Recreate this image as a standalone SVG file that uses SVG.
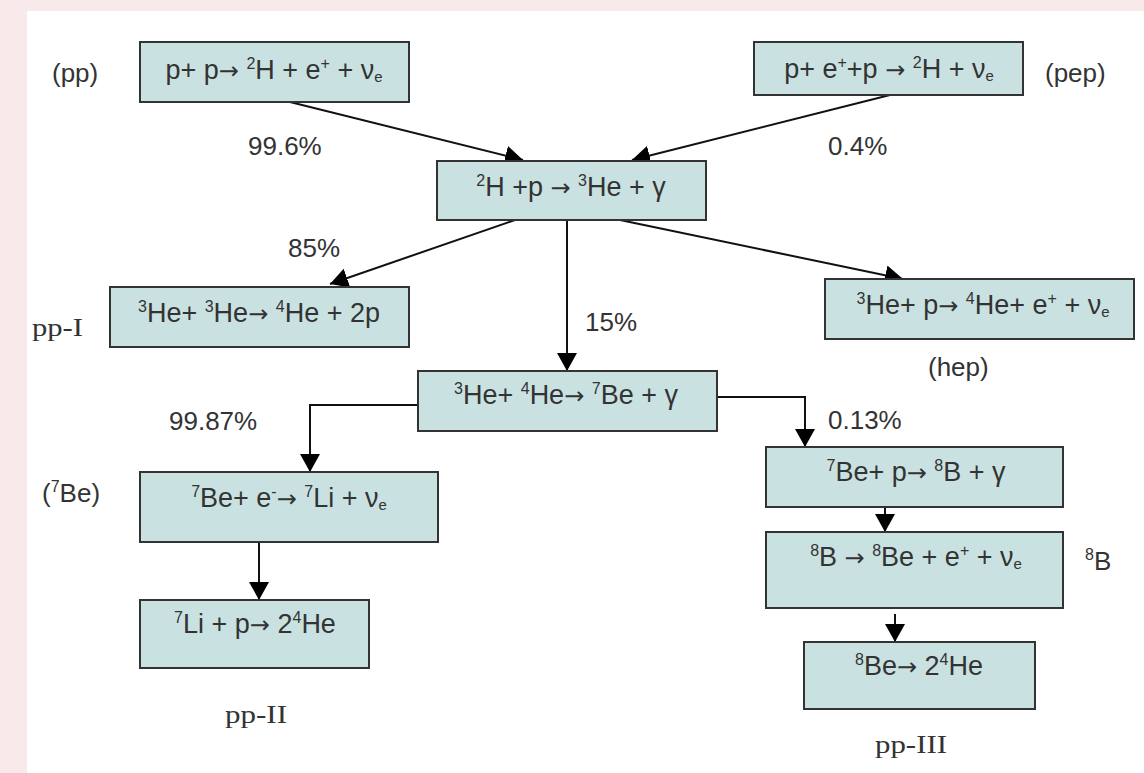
<svg xmlns="http://www.w3.org/2000/svg" width="1144" height="773" viewBox="0 0 1144 773">
<defs>
<marker id="ah" markerUnits="userSpaceOnUse" markerWidth="18" markerHeight="20" viewBox="0 0 18 20" refX="18" refY="10" orient="auto">
<path d="M0,0 L18,10 L0,20 Z" fill="#000"/>
</marker>
<style>
.box{fill:#c9e2e1;stroke:#333;stroke-width:2}
.t{font-family:"Liberation Sans",Arial,sans-serif;font-size:27px;fill:#333;text-anchor:middle}
.l{font-family:"Liberation Sans",Arial,sans-serif;font-size:26px;fill:#333}
.r{font-family:"Liberation Serif","Times New Roman",serif;font-size:25px;fill:#333}
.s{font-size:16px}
.b{font-size:15px}
.a{font-family:"DejaVu Sans",sans-serif;font-size:24px}
.c{fill:none;stroke:#111;stroke-width:2}
</style>
</defs>
<rect x="0" y="0" width="1144" height="773" fill="#f8eaea"/>
<rect x="27" y="11" width="1117" height="762" fill="#ffffff"/>

<g id="connectors">
<line class="c" x1="290" y1="102" x2="523" y2="160" marker-end="url(#ah)"/>
<line class="c" x1="890" y1="95" x2="632" y2="160" marker-end="url(#ah)"/>
<line class="c" x1="515" y1="220" x2="330" y2="284" marker-end="url(#ah)"/>
<line class="c" x1="620" y1="220" x2="903" y2="279" marker-end="url(#ah)"/>
<line class="c" x1="567" y1="220" x2="567" y2="371" marker-end="url(#ah)"/>
<polyline class="c" points="418,405 310,405 310,472" marker-end="url(#ah)"/>
<polyline class="c" points="717,397 805,397 805,447" marker-end="url(#ah)"/>
<line class="c" x1="259" y1="542" x2="259" y2="600" marker-end="url(#ah)"/>
<line class="c" x1="885" y1="507" x2="885" y2="532" marker-end="url(#ah)"/>
<line class="c" x1="895" y1="614" x2="895" y2="642" marker-end="url(#ah)"/>
</g>

<g id="n-pp">
<rect class="box" x="140" y="42" width="269" height="60"/>
<text class="t" x="274" y="79">p+ p<tspan class="a">→</tspan> <tspan class="s" dy="-10">2</tspan><tspan dy="10">H + e</tspan><tspan class="s" dy="-10">+</tspan><tspan dy="10"> + ν</tspan><tspan class="b" dy="3">e</tspan></text>
</g>
<g id="n-pep">
<rect class="box" x="754" y="42" width="269" height="53"/>
<text class="t" x="889" y="78">p+ e<tspan class="s" dy="-10">+</tspan><tspan dy="10">+p </tspan><tspan class="a">→</tspan> <tspan class="s" dy="-10">2</tspan><tspan dy="10">H + ν</tspan><tspan class="b" dy="3">e</tspan></text>
</g>
<g id="n-dp">
<rect class="box" x="437" y="161" width="269" height="59"/>
<text class="t" x="571" y="196"><tspan class="s" dy="-10">2</tspan><tspan dy="10">H +p </tspan><tspan class="a">→</tspan> <tspan class="s" dy="-10">3</tspan><tspan dy="10">He + γ</tspan></text>
</g>
<g id="n-ppI">
<rect class="box" x="110" y="287" width="299" height="60"/>
<text class="t" x="259" y="322"><tspan class="s" dy="-10">3</tspan><tspan dy="10">He+ </tspan><tspan class="s" dy="-10">3</tspan><tspan dy="10">He</tspan><tspan class="a">→</tspan> <tspan class="s" dy="-10">4</tspan><tspan dy="10">He + 2p</tspan></text>
</g>
<g id="n-hep">
<rect class="box" x="825" y="279" width="309" height="60"/>
<text class="t" x="983" y="314"><tspan class="s" dy="-10">3</tspan><tspan dy="10">He+ p</tspan><tspan class="a">→</tspan> <tspan class="s" dy="-10">4</tspan><tspan dy="10">He+ e</tspan><tspan class="s" dy="-10">+</tspan><tspan dy="10"> + ν</tspan><tspan class="b" dy="3">e</tspan></text>
</g>
<g id="n-be7">
<rect class="box" x="418" y="371" width="299" height="60"/>
<text class="t" x="566" y="404"><tspan class="s" dy="-10">3</tspan><tspan dy="10">He+ </tspan><tspan class="s" dy="-10">4</tspan><tspan dy="10">He</tspan><tspan class="a">→</tspan> <tspan class="s" dy="-10">7</tspan><tspan dy="10">Be + γ</tspan></text>
</g>
<g id="n-ec">
<rect class="box" x="140" y="472" width="298" height="70"/>
<text class="t" x="289" y="507"><tspan class="s" dy="-10">7</tspan><tspan dy="10">Be+ e</tspan><tspan class="s" dy="-10">-</tspan><tspan dy="10" class="a">→</tspan> <tspan class="s" dy="-10">7</tspan><tspan dy="10">Li + ν</tspan><tspan class="b" dy="3">e</tspan></text>
</g>
<g id="n-li7">
<rect class="box" x="140" y="600" width="229" height="68"/>
<text class="t" x="255" y="633"><tspan class="s" dy="-10">7</tspan><tspan dy="10">Li + p</tspan><tspan class="a">→</tspan> 2<tspan class="s" dy="-10">4</tspan><tspan dy="10">He</tspan></text>
</g>
<g id="n-b8">
<rect class="box" x="766" y="447" width="297" height="60"/>
<text class="t" x="916" y="481"><tspan class="s" dy="-10">7</tspan><tspan dy="10">Be+ p</tspan><tspan class="a">→</tspan> <tspan class="s" dy="-10">8</tspan><tspan dy="10">B + γ</tspan></text>
</g>
<g id="n-b8decay">
<rect class="box" x="766" y="532" width="297" height="76"/>
<text class="t" x="916" y="566"><tspan class="s" dy="-10">8</tspan><tspan dy="10">B </tspan><tspan class="a">→</tspan> <tspan class="s" dy="-10">8</tspan><tspan dy="10">Be + e</tspan><tspan class="s" dy="-10">+</tspan><tspan dy="10"> + ν</tspan><tspan class="b" dy="3">e</tspan></text>
</g>
<g id="n-be8">
<rect class="box" x="804" y="642" width="231" height="67"/>
<text class="t" x="919" y="675"><tspan class="s" dy="-10">8</tspan><tspan dy="10">Be</tspan><tspan class="a">→</tspan> 2<tspan class="s" dy="-10">4</tspan><tspan dy="10">He</tspan></text>
</g>

<g id="labels">
<text class="l" x="52" y="82">(pp)</text>
<text class="l" x="1045" y="82">(pep)</text>
<text class="l" x="248" y="155">99.6%</text>
<text class="l" x="828" y="155">0.4%</text>
<text class="l" x="288" y="257">85%</text>
<text class="l" x="585" y="331">15%</text>
<text class="l" x="928" y="376">(hep)</text>
<text class="l" x="169" y="430">99.87%</text>
<text class="l" x="828" y="429">0.13%</text>
<text class="l" x="42" y="502">(<tspan class="s" dy="-10">7</tspan><tspan dy="10">Be)</tspan></text>
<text class="l" x="1085" y="570"><tspan class="s" dy="-10">8</tspan><tspan dy="10">B</tspan></text>
<text class="r" x="32" y="336" textLength="51" lengthAdjust="spacingAndGlyphs">pp-I</text>
<text class="r" x="225" y="723" textLength="62" lengthAdjust="spacingAndGlyphs">pp-II</text>
<text class="r" x="875" y="753" textLength="72" lengthAdjust="spacingAndGlyphs">pp-III</text>
</g>
</svg>
